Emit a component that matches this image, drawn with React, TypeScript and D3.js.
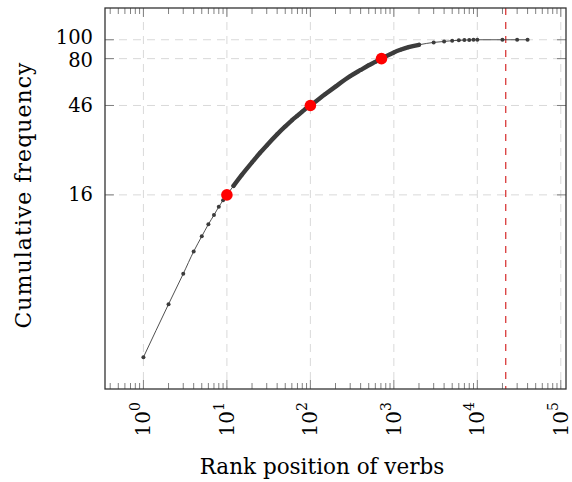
import { useRef, useEffect } from 'react'
import * as d3 from 'd3'

// ranks and cumulative frequency (%)
const ranks = [
  1, 2, 3, 4, 5, 6, 7, 8, 9, 10,
  12, 15, 20, 25, 30, 40, 50, 60, 70, 80, 90, 100,
  150, 200, 300, 400, 500, 600, 711, 800, 1000, 1200, 1500, 2000,
  3000, 4000, 5000, 6000, 7000, 8000, 9000, 10000, 20000, 30000, 40000,
]
const cumFreq = [
  2.35, 4.4, 6.3, 8.2, 9.8, 11.3, 12.6, 13.9, 15.0, 16.0,
  17.8, 20.2, 23.5, 26.3, 28.7, 32.7, 35.9, 38.6, 40.8, 42.8, 44.6, 46.0,
  52.5, 57.5, 65.0, 70.0, 74.0, 77.0, 80.0, 82.2, 86.1, 88.8, 91.6, 94.2,
  96.9, 98.0, 98.9, 99.3, 99.6, 99.8, 99.9, 100, 100, 100, 100,
]
// dense part of the series (every rank plotted) spans these ranks
const denseFrom = 12
const denseTo = 2000

const highlightRanks = [10, 100, 711]
const highlightFreq = [16, 46, 80]

const yTicks = [16, 46, 80, 100]
const xDecades = [0, 1, 2, 3, 4, 5]
const cutoffRank = 21900

const FONT = "'DejaVu Serif', serif"

export default function App() {
  const svgRef = useRef<SVGSVGElement>(null)

  useEffect(() => {
    const svg = svgRef.current
    if (!svg) return
    const W = 572
    const H = 482
    const margin = { top: 8, right: 6, bottom: 93, left: 105 }
    const iW = W - margin.left - margin.right
    const iH = H - margin.top - margin.bottom

    const sel = d3.select(svg)
    sel.selectAll('*').remove()
    sel.attr('width', W).attr('height', H)
    const g = sel.append('g').attr('transform', `translate(${margin.left},${margin.top})`)

    // pgfplots-style 10% enlargement in log space
    const lx = d3.extent(ranks.map((r) => Math.log10(r))) as [number, number]
    const ly = d3.extent(cumFreq.map((v) => Math.log10(v))) as [number, number]
    const ex = (lx[1] - lx[0]) * 0.1
    const ey = (ly[1] - ly[0]) * 0.1
    const x = d3.scaleLog().domain([10 ** (lx[0] - ex), 10 ** (lx[1] + ex)]).range([0, iW])
    const y = d3.scaleLog().domain([10 ** (ly[0] - ey), 10 ** (ly[1] + ey)]).range([iH, 0])

    // grid
    const gridColor = '#d9d9d9'
    xDecades.forEach((d) => {
      g.append('line')
        .attr('x1', x(10 ** d)).attr('x2', x(10 ** d))
        .attr('y1', 0).attr('y2', iH)
        .attr('stroke', gridColor).attr('stroke-width', 1).attr('stroke-dasharray', '8,6')
    })
    yTicks.forEach((t) => {
      g.append('line')
        .attr('x1', 0).attr('x2', iW)
        .attr('y1', y(t)).attr('y2', y(t))
        .attr('stroke', gridColor).attr('stroke-width', 1).attr('stroke-dasharray', '8,6')
    })

    // ticks
    const tickColor = '#808080'
    const minor: number[] = []
    for (let d = -1; d <= 5; d++) {
      for (let m = 2; m <= 9; m++) {
        const v = m * 10 ** d
        if (v >= x.domain()[0] && v <= x.domain()[1]) minor.push(v)
      }
    }
    minor.forEach((v) => {
      g.append('line').attr('x1', x(v)).attr('x2', x(v)).attr('y1', iH).attr('y2', iH - 6)
        .attr('stroke', tickColor).attr('stroke-width', 1)
      g.append('line').attr('x1', x(v)).attr('x2', x(v)).attr('y1', 0).attr('y2', 6)
        .attr('stroke', tickColor).attr('stroke-width', 1)
    })
    xDecades.forEach((d) => {
      g.append('line').attr('x1', x(10 ** d)).attr('x2', x(10 ** d)).attr('y1', iH).attr('y2', iH - 9)
        .attr('stroke', tickColor).attr('stroke-width', 1)
      g.append('line').attr('x1', x(10 ** d)).attr('x2', x(10 ** d)).attr('y1', 0).attr('y2', 9)
        .attr('stroke', tickColor).attr('stroke-width', 1)
    })
    yTicks.forEach((t) => {
      g.append('line').attr('x1', 0).attr('x2', 9).attr('y1', y(t)).attr('y2', y(t))
        .attr('stroke', tickColor).attr('stroke-width', 1)
      g.append('line').attr('x1', iW).attr('x2', iW - 9).attr('y1', y(t)).attr('y2', y(t))
        .attr('stroke', tickColor).attr('stroke-width', 1)
    })

    // cutoff line
    g.append('line')
      .attr('x1', x(cutoffRank)).attr('x2', x(cutoffRank))
      .attr('y1', 0).attr('y2', iH)
      .attr('stroke', '#d62a2a').attr('stroke-width', 1.2).attr('stroke-dasharray', '7,7')

    const pts = ranks.map((r, i) => [r, cumFreq[i]] as [number, number])
    const line = d3.line<[number, number]>().x((d) => x(d[0])).y((d) => y(d[1])).curve(d3.curveMonotoneX)

    // thin connecting line
    g.append('path').datum(pts).attr('d', line)
      .attr('fill', 'none').attr('stroke', '#3c3c3c').attr('stroke-width', 0.9)

    // dense region: overlapping markers form a thick band
    const dense = pts.filter((p) => p[0] >= denseFrom && p[0] <= denseTo)
    g.append('path').datum(dense).attr('d', line)
      .attr('fill', 'none').attr('stroke', '#3c3c3c').attr('stroke-width', 4.4)
      .attr('stroke-linecap', 'round')

    // markers
    g.selectAll('circle.pt').data(pts).enter().append('circle')
      .attr('class', 'pt')
      .attr('cx', (d) => x(d[0])).attr('cy', (d) => y(d[1])).attr('r', 2)
      .attr('fill', '#3c3c3c')

    // highlighted points
    highlightRanks.forEach((r, i) => {
      g.append('circle').attr('cx', x(r)).attr('cy', y(highlightFreq[i])).attr('r', 5.8)
        .attr('fill', '#ff0000')
    })

    // frame
    g.append('rect').attr('x', 0).attr('y', 0).attr('width', iW).attr('height', iH)
      .attr('fill', 'none').attr('stroke', '#333').attr('stroke-width', 1.3)

    // y tick labels (100 and 80 sit close; nudge apart a little)
    yTicks.forEach((t) => {
      g.append('text')
        .attr('x', -12).attr('y', y(t) + (t === 100 ? -2 : t === 80 ? 2 : 0))
        .attr('text-anchor', 'end').attr('dominant-baseline', 'central')
        .attr('font-family', FONT).attr('font-size', 19.5).attr('fill', '#000')
        .text(String(t))
    })

    // x tick labels (rotated)
    xDecades.forEach((d) => {
      const t = g.append('text')
        .attr('transform', `translate(${x(10 ** d)},${iH + 13}) rotate(-90)`)
        .attr('text-anchor', 'end').attr('dominant-baseline', 'central')
        .attr('font-family', FONT).attr('font-size', 20).attr('fill', '#000')
      t.append('tspan').text('10')
      t.append('tspan').attr('font-size', 14).attr('dy', -8).text(String(d))
    })

    // axis titles
    sel.append('text')
      .attr('x', 322).attr('y', 474)
      .attr('text-anchor', 'middle')
      .attr('font-family', FONT).attr('font-size', 21.5).attr('fill', '#000')
      .text('Rank position of verbs')
    sel.append('text')
      .attr('transform', `translate(31,${margin.top + iH / 2 - 3}) rotate(-90)`)
      .attr('text-anchor', 'middle')
      .attr('font-family', FONT).attr('font-size', 22).attr('fill', '#000')
      .attr('textLength', 266).attr('lengthAdjust', 'spacing')
      .text('Cumulative frequency')
  }, [])

  return <svg ref={svgRef} style={{ position: 'absolute', left: 0, top: 0 }} />
}
